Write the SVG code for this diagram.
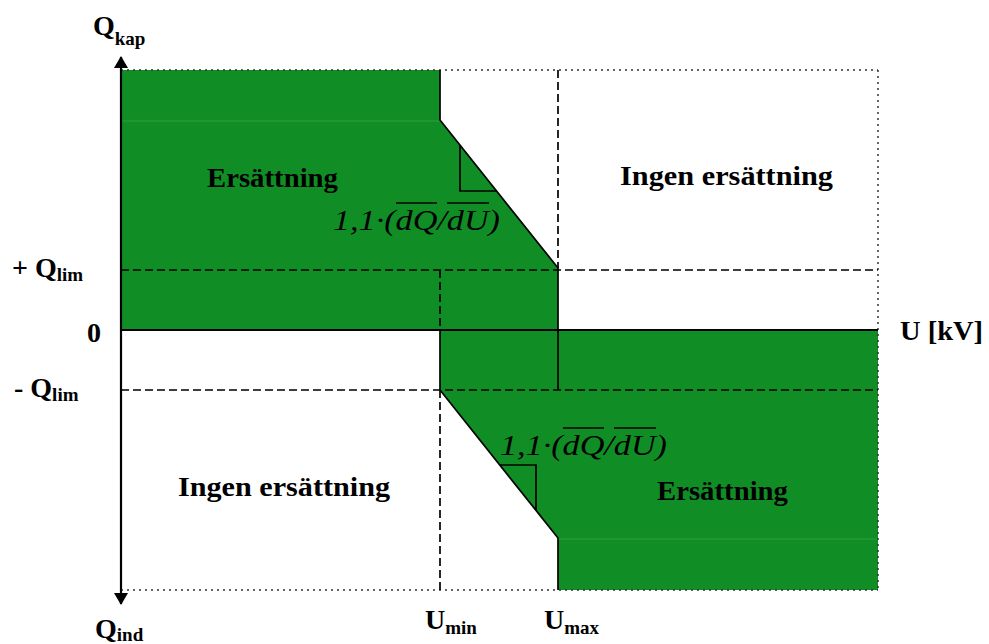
<svg xmlns="http://www.w3.org/2000/svg" width="989" height="644" viewBox="0 0 989 644">
<defs>
<style>
.lbl{font-family:"Liberation Serif","DejaVu Serif",serif;font-weight:bold;fill:#000}
.big{font-size:27px}
.ax{font-size:28px}
.sub{font-size:19px}
.frm{font-family:"Liberation Serif","DejaVu Serif",serif;font-style:italic;font-size:30px;fill:#000}
.ovl{stroke:#000;stroke-width:1.3;fill:none}
.green{fill:#108E25;stroke:none}
.dash{stroke:#000;stroke-width:1.7;stroke-dasharray:8,4;fill:none}
.dot{stroke:#333;stroke-width:1.5;stroke-dasharray:2,4;fill:none}
.solid{stroke:#000;stroke-width:2.2;fill:none}
.thin{stroke:#000;stroke-width:1.7;fill:none}
.faint{stroke:#2E9E40;stroke-width:1;fill:none}
</style>
<marker id="arr" viewBox="0 0 12 14" refX="11" refY="7" markerWidth="12" markerHeight="14" markerUnits="userSpaceOnUse" orient="auto">
<path d="M0,0 L12,7 L0,14 Z" fill="#000"/>
</marker>
</defs>
<rect width="989" height="644" fill="#fff"/>

<g id="regions">
<polygon class="green" points="121,70 440,70 440,120 558,268 558,330 121,330"/>
<polygon class="green" points="440,330 878,330 878,590 558,590 558,538 440,390"/>
<line class="faint" x1="121" y1="121" x2="440" y2="121"/>
<line class="faint" x1="558" y1="539" x2="878" y2="539"/>
</g>

<g id="connectors">
<line class="dot" x1="121" y1="70" x2="878" y2="70"/>
<line class="dot" x1="878" y1="70" x2="878" y2="590"/>
<line class="dot" x1="121" y1="590" x2="878" y2="590"/>
<line class="dash" x1="121" y1="270" x2="878" y2="270"/>
<line class="dash" x1="121" y1="390" x2="878" y2="390"/>
<line class="dash" x1="558" y1="70" x2="558" y2="268"/>
<line class="dash" x1="440" y1="270" x2="440" y2="330"/>
<line class="dash" x1="440" y1="390" x2="440" y2="590"/>
<polyline class="thin" points="440,70 440,120 558,268 558,390"/>
<polyline class="thin" points="440,330 440,390 558,538 558,590"/>
<line class="solid" x1="121" y1="330" x2="878" y2="330"/>
<line class="solid" x1="121" y1="330" x2="121" y2="57" marker-end="url(#arr)"/>
<line class="solid" x1="121" y1="330" x2="121" y2="604" marker-end="url(#arr)"/>
<polyline class="thin" points="460,145 460,191 497,191"/>
<polyline class="thin" points="500,465 536,465 536,510"/>
</g>

<g id="upper-left">
<text class="lbl big" x="207" y="187" textLength="131" lengthAdjust="spacingAndGlyphs">Ersättning</text>
</g>
<g id="upper-right">
<text class="lbl big" x="620" y="185" textLength="213" lengthAdjust="spacingAndGlyphs">Ingen ersättning</text>
</g>
<g id="lower-left">
<text class="lbl big" x="178" y="496" textLength="212" lengthAdjust="spacingAndGlyphs">Ingen ersättning</text>
</g>
<g id="lower-right">
<text class="lbl big" x="657" y="500" textLength="131" lengthAdjust="spacingAndGlyphs">Ersättning</text>
</g>

<g id="slope-upper">
<text class="frm" x="333" y="230" textLength="167" lengthAdjust="spacingAndGlyphs">1,1·(dQ/dU)</text>
<line class="ovl" x1="396" y1="203" x2="437" y2="203"/>
<line class="ovl" x1="447" y1="203" x2="489" y2="203"/>
</g>
<g id="slope-lower">
<text class="frm" x="500" y="455" textLength="167" lengthAdjust="spacingAndGlyphs">1,1·(dQ/dU)</text>
<line class="ovl" x1="563" y1="428" x2="604" y2="428"/>
<line class="ovl" x1="614" y1="428" x2="656" y2="428"/>
</g>

<g id="axis-labels">
<text class="lbl ax" x="93" y="35">Q<tspan class="sub" dy="10">kap</tspan></text>
<text class="lbl ax" x="12" y="277">+ Q<tspan class="sub" dy="4">lim</tspan></text>
<text class="lbl ax" x="87" y="342">0</text>
<text class="lbl ax" x="14" y="397">- Q<tspan class="sub" dy="4">lim</tspan></text>
<text class="lbl ax" x="900" y="340" textLength="83" lengthAdjust="spacingAndGlyphs">U [kV]</text>
<text class="lbl ax" x="95" y="638">Q<tspan class="sub" dy="3">ind</tspan></text>
<text class="lbl ax" x="425" y="629">U<tspan class="sub" dy="5">min</tspan></text>
<text class="lbl ax" x="544" y="629">U<tspan class="sub" dy="5">max</tspan></text>
</g>
</svg>
